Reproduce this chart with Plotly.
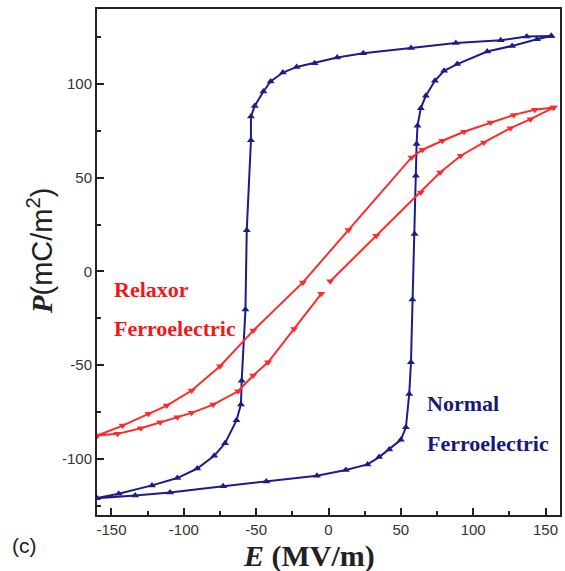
import plotly.graph_objects as go

# Normal ferroelectric loop (blue): descending branch then ascending branch
normal_E = [154, 137, 119, 88, 57, 24, 6, -9.6, -22, -31.5, -40, -45, -51, -53.6, -53.6, -56.5, -57.4,
            -60, -60.5, -63.6, -71.5, -79, -90.7, -104.5, -122, -145, -160,
            -133.6, -109.5, -72.8, -43, -8, 12, 27, 35, 42, 50, 53.5, 55.8, 57, 58, 59.5,
            60.4, 60.9, 61.5, 63.8, 67.3, 73.5, 79.9, 89, 109.7, 126.9, 144.1, 154]
normal_P = [125.6, 125.3, 123.3, 121.9, 119.2, 116.4, 114.1, 111.1, 109.1, 106.1, 101.3, 96, 88.3, 82.6, 70, 22, -20.4,
            -58.3, -71, -79.5, -91.7, -98.4, -105.2, -110.3, -114.2, -118.7, -121,
            -119.6, -118, -114.6, -112.1, -109, -106, -103, -99.1, -95, -89.9, -83.2, -65.4, -48.5, -15, 20,
            51, 67.9, 77.7, 87.1, 93.7, 101.7, 107, 110.6, 117.3, 120.3, 123.9, 125.6]

# Relaxor ferroelectric loop (red)
relaxor_E = [155.6, 142.6, 128.1, 112, 93.7, 78.7, 65, 57.4, 13.8, -17.7, -52, -75, -94.6, -111.8, -124.4, -142.3, -159.6,
             -145.8, -129.7, -116.3, -104.4, -94.6, -79.7, -62.5, -52.1, -41.8, -23.8, -5, None,
             1.2, 33, 63.8, 77.1, 91.4, 107.4, 125.8, 139.6, 155.6]
relaxor_P = [87.4, 86.2, 83.5, 79.4, 74.5, 69.7, 64.9, 60.8, 22.1, -5.9, -31.6, -50.6, -63.6, -71.6, -76, -82.3, -87.6,
             -86.7, -83.7, -80.5, -77.8, -75.5, -71.1, -64, -55.6, -48.5, -30.7, -12, None,
             -5.3, 19, 42.1, 52.8, 61.7, 68.8, 76.4, 81.2, 87.4]

x_ticks = [-150, -100, -50, 0, 50, 100, 150]
y_ticks = [-100, -50, 0, 50, 100]

BLUE = "#1c1c8c"
RED = "#ff2a2a"
RED_TXT = "#f01818"
BLUE_TXT = "#18187a"

fig = go.Figure()
fig.add_trace(go.Scatter(x=normal_E, y=normal_P, mode="lines+markers",
                         line=dict(color=BLUE, width=2),
                         marker=dict(symbol="triangle-up", size=7, color=BLUE),
                         connectgaps=False, showlegend=False))
fig.add_trace(go.Scatter(x=relaxor_E, y=relaxor_P, mode="lines+markers",
                         line=dict(color=RED, width=2),
                         marker=dict(symbol="triangle-down", size=7, color=RED),
                         connectgaps=False, showlegend=False))

axis_common = dict(showline=True, linewidth=2, linecolor="#222", mirror=True,
                   ticks="inside", ticklen=7, tickwidth=2, tickcolor="#222",
                   showgrid=False, zeroline=False,
                   tickfont=dict(family="Liberation Sans, Arial", size=15, color="#333"))

fig.update_xaxes(range=[-160, 160], tickvals=x_ticks, ticktext=[str(v) for v in x_ticks],
                 minor=dict(ticks="inside", ticklen=4, tickwidth=2, tickcolor="#222", dtick=25, tick0=25),
                 **axis_common)
fig.update_yaxes(range=[-130, 140], tickvals=y_ticks, ticktext=[str(v) for v in y_ticks],
                 minor=dict(ticks="inside", ticklen=4, tickwidth=2, tickcolor="#222", dtick=25, tick0=25),
                 **axis_common)

W, H = 565, 571
L, R, T, B = 97, 3, 9, 56
pw, ph = W - L - R, H - T - B

def px(xp):
    return (xp - L) / pw

def py(yp):
    return 1 - (yp - T) / ph

annos = [
    dict(x=px(112), y=py(289), text="<b>Relaxor</b>", color=RED_TXT),
    dict(x=px(112), y=py(328), text="<b>Ferroelectric</b>", color=RED_TXT),
    dict(x=px(426), y=py(403), text="<b>Normal</b>", color=BLUE_TXT),
    dict(x=px(426), y=py(443), text="<b>Ferroelectric</b>", color=BLUE_TXT),
]
for a in annos:
    fig.add_annotation(x=a["x"], y=a["y"], xref="paper", yref="paper", text=a["text"],
                       showarrow=False, xanchor="left", yanchor="middle",
                       font=dict(family="Liberation Serif, Times New Roman", size=22, color=a["color"]))

fig.add_annotation(x=px(310), y=py(556), xref="paper", yref="paper",
                   text="<b><i>E</i> (MV/m)</b>", showarrow=False, xanchor="center", yanchor="middle",
                   font=dict(family="Liberation Serif, Times New Roman", size=30, color="#222"))
fig.add_annotation(x=px(40), y=py(251), xref="paper", yref="paper", textangle=-90,
                   text="<b><i>P</i></b><span style='font-family:Liberation Sans, Arial'>(mC/m<sup>2</sup>)</span>",
                   showarrow=False, xanchor="center", yanchor="middle",
                   font=dict(family="Liberation Serif, Times New Roman", size=29, color="#222"))
fig.add_annotation(x=px(24), y=py(545), xref="paper", yref="paper", text="(c)",
                   showarrow=False, xanchor="center", yanchor="middle",
                   font=dict(family="Liberation Sans, Arial", size=21, color="#222"))

fig.update_layout(width=W, height=H, margin=dict(l=L, r=R, t=T, b=B),
                  paper_bgcolor="white", plot_bgcolor="white")

fig.write_html("out.html")
